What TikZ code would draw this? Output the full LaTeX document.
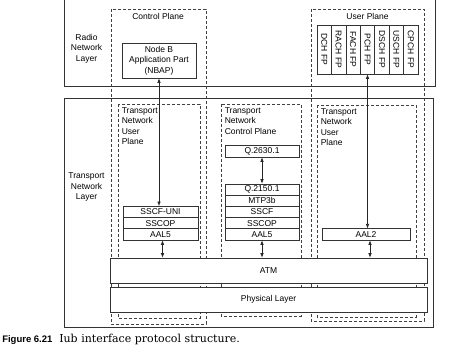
\documentclass[tikz,border=0pt]{standalone}
\usepackage{fontspec}
\usepackage{graphicx}
\setmainfont{DejaVu Serif}
\setsansfont{Liberation Sans}
\usetikzlibrary{arrows.meta}

\begin{document}
\begin{tikzpicture}[x=1pt, y=-1pt, line width=0.6pt,
    every node/.style={font=\sffamily\fontsize{8.5}{10.5}\selectfont, inner sep=0pt},
    layer/.style={draw=black!80},
    plane/.style={draw=black!75, dash pattern=on 3pt off 2pt},
    cell/.style={draw=black!80, fill=white, minimum height=11.2pt},
    tag/.style={anchor=north west, align=left},
    link/.style={{Latex[length=4.5pt,width=3.5pt]}-{Latex[length=4.5pt,width=3.5pt]}, black!85}]
  \useasboundingbox (0,0) rectangle (474,355);

  % layers
  \draw[layer] (64,0) -- (64,86) -- (435,86) -- (435,0);
  \draw[layer] (64,98) rectangle (433,327);
  \node[align=center] (rnl) at (86.5,48.5) {Radio\\Network\\Layer};
  \node[align=center] (tnl) at (86.5,187) {Transport\\Network\\Layer};

  % planes
  \draw[plane] (111,9) rectangle (206,324);
  \draw[plane] (311,9) rectangle (424,321);
  \draw[plane] (118,104) rectangle (200,318);
  \draw[plane] (221,104) rectangle (301,316);
  \draw[plane] (317,105) rectangle (416,317);
  \node (cp) at (158,16) {Control Plane};
  \node (up) at (367.5,16) {User Plane};
  \node[tag] (tnup-l) at (121.5,107) {Transport\\Network\\User\\Plane};
  \node[tag] (tncp) at (224.5,107) {Transport\\Network\\Control Plane};
  \node[tag] (tnup-r) at (320.5,108) {Transport\\Network\\User\\Plane};

  % radio network layer
  \node[cell, minimum width=74pt, minimum height=35pt, align=center] (nbap) at (159,60.5)
    {Node B\\Application Part\\(NBAP)};
  \foreach \ch [count=\i] in {DCH,RACH,FACH,PCH,DSCH,USCH,CPCH}
    \node[cell, minimum width=14.43pt, minimum height=49pt] (fp\i) at ({317+14.43*(\i-0.5)},49.5)
      {\rotatebox{-90}{\ch\ FP}};

  % transport network layer
  \node[cell, minimum width=75pt] (sscfuni) at (160.5,212) {SSCF-UNI};
  \node[cell, minimum width=75pt] (sscop-l) at (160.5,223.2) {SSCOP};
  \node[cell, minimum width=75pt] (aal5-l) at (160.5,234.4) {AAL5};

  \node[cell, minimum width=74pt, minimum height=12pt] (q2630) at (262,151) {Q.2630.1};
  \node[cell, minimum width=74pt] (q2150) at (262,189.6) {Q.2150.1};
  \node[cell, minimum width=74pt] (mtp3b) at (262,200.8) {MTP3b};
  \node[cell, minimum width=74pt] (sscf) at (262,212) {SSCF};
  \node[cell, minimum width=74pt] (sscop-m) at (262,223.2) {SSCOP};
  \node[cell, minimum width=74pt] (aal5-m) at (262,234.4) {AAL5};

  \node[cell, minimum width=88pt] (aal2) at (366,234.4) {AAL2};

  \node[cell, minimum width=317pt, minimum height=25pt] (atm) at (268.5,270.5) {ATM};
  \node[cell, minimum width=317pt, minimum height=25pt] (phy) at (268.5,299.5) {Physical Layer};

  % arrows
  \draw[link] (nbap.south) -- (nbap.south |- sscfuni.north);
  \draw[link] (q2630.south) -- (q2150.north);
  \draw[link] (fp4.south) -- (fp4.south |- aal2.north);
  \draw[link] ([xshift=2pt]aal5-l.south) -- ([xshift=2pt]aal5-l.south |- atm.north);
  \draw[link] (aal5-m.south) -- (aal5-m.south |- atm.north);
  \draw[link] ([xshift=4pt]aal2.south) -- ([xshift=4pt]aal2.south |- atm.north);

  % caption
  \node[anchor=base west, font=\sffamily\bfseries\fontsize{9.5}{11}\selectfont] (fig) at (2,342.5) {Figure 6.21};
  \node[anchor=base west, font=\rmfamily\fontsize{11}{13}\selectfont] (cap) at (59,343) {Iub interface protocol structure.};
\end{tikzpicture}
\end{document}
